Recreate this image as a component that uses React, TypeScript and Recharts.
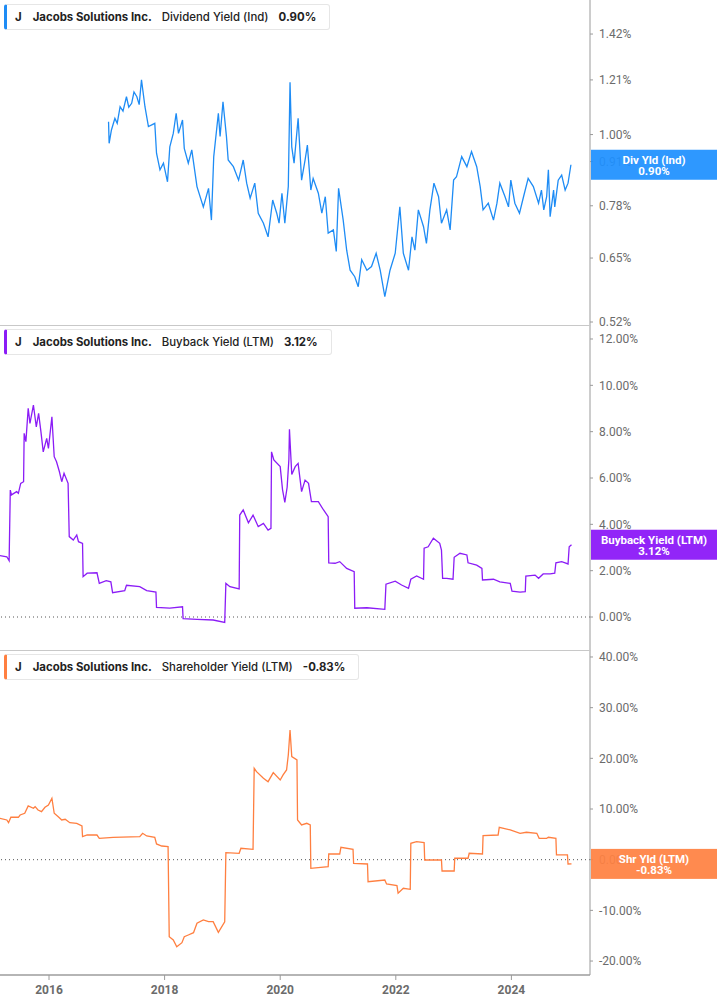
import React from 'react';
import { LineChart, Line, XAxis, YAxis, ReferenceLine } from 'recharts';

// time axis in fractional years
const X_MIN = 2015.152;
const X_MAX = 2025.36;
const yearTicks = [2016, 2018, 2020, 2022, 2024];

// Dividend Yield (Ind), %
const divDates = [
  2017.03, 2017.04, 2017.08, 2017.14, 2017.18, 2017.23, 2017.28, 2017.34, 2017.38, 2017.43, 2017.47, 2017.52, 2017.56, 2017.6, 2017.66,
  2017.72, 2017.83, 2017.86, 2017.92, 2017.98, 2018.05, 2018.09, 2018.15, 2018.2, 2018.24,
  2018.31, 2018.34, 2018.41, 2018.47, 2018.56, 2018.67, 2018.76, 2018.81, 2018.85, 2018.93,
  2018.96, 2019.01, 2019.07, 2019.1, 2019.19, 2019.28, 2019.36, 2019.42, 2019.48, 2019.56,
  2019.62, 2019.71, 2019.79, 2019.87, 2019.94, 2019.98, 2020.03, 2020.08, 2020.14, 2020.17,
  2020.2, 2020.24, 2020.31, 2020.37, 2020.43, 2020.47, 2020.53, 2020.57, 2020.66, 2020.72,
  2020.78, 2020.83, 2020.92, 2020.97, 2021.01, 2021.09, 2021.15, 2021.21, 2021.29, 2021.35,
  2021.41, 2021.5, 2021.58, 2021.66, 2021.73, 2021.81, 2021.9, 2021.99, 2022.07, 2022.13,
  2022.22, 2022.28, 2022.33, 2022.39, 2022.48, 2022.53, 2022.59, 2022.66, 2022.74, 2022.79,
  2022.88, 2022.94, 2023.0, 2023.05, 2023.14, 2023.23, 2023.31, 2023.4, 2023.46, 2023.51,
  2023.6, 2023.69, 2023.75, 2023.8, 2023.89, 2023.95, 2023.99, 2024.06, 2024.14, 2024.21,
  2024.29, 2024.38, 2024.47, 2024.52, 2024.56, 2024.61, 2024.64, 2024.67, 2024.73, 2024.75,
  2024.81, 2024.87, 2024.93, 2024.98, 2025.03,
];
const divValues = [
  1.046, 0.97, 1.016, 1.058, 1.04, 1.102, 1.085, 1.141, 1.1, 1.115, 1.16, 1.141, 1.11, 1.21, 1.102,
  1.028, 1.04, 0.937, 0.884, 0.905, 0.848, 0.958, 1.004, 1.077, 1.004,
  1.052, 0.953, 0.905, 0.948, 0.834, 0.777, 0.829, 0.742, 0.926, 1.077,
  0.993, 1.121, 0.993, 0.915, 0.894, 0.853, 0.915, 0.844, 0.801, 0.844,
  0.76, 0.734, 0.7, 0.796, 0.76, 0.734, 0.815, 0.734, 0.834, 1.2,
  0.958, 0.905, 1.058, 0.853, 0.915, 0.964, 0.824, 0.858, 0.815, 0.76,
  0.805, 0.709, 0.717, 0.665, 0.829, 0.742, 0.668, 0.623, 0.609, 0.588,
  0.646, 0.623, 0.631, 0.661, 0.623, 0.568, 0.623, 0.661, 0.777, 0.661,
  0.623, 0.7, 0.668, 0.769, 0.725, 0.684, 0.769, 0.844, 0.805, 0.734,
  0.769, 0.717, 0.853, 0.863, 0.926, 0.894, 0.942, 0.894, 0.834, 0.769,
  0.787, 0.742, 0.787, 0.844, 0.805, 0.777, 0.853, 0.787, 0.76, 0.805,
  0.858, 0.834, 0.787, 0.824, 0.769, 0.805, 0.884, 0.751, 0.824, 0.777,
  0.853, 0.868, 0.824, 0.844, 0.9,
];
const divTicks = [0.52, 0.65, 0.78, 0.91, 1.0, 1.21, 1.42];

// Buyback Yield (LTM), %
const buyDates = [
  2015.15, 2015.27, 2015.31, 2015.33, 2015.35, 2015.44, 2015.47, 2015.51, 2015.56, 2015.57,
  2015.6, 2015.64, 2015.67, 2015.73, 2015.78, 2015.82, 2015.86, 2015.9, 2015.96, 2015.99,
  2016.05, 2016.09, 2016.13, 2016.18, 2016.22, 2016.26, 2016.33, 2016.35, 2016.42, 2016.48,
  2016.51, 2016.58, 2016.59, 2016.66, 2016.83, 2016.87, 2016.99, 2017.07, 2017.1, 2017.31,
  2017.34, 2017.57, 2017.69, 2017.85, 2017.86, 2018.09, 2018.31, 2018.32, 2018.56, 2018.84,
  2019.04, 2019.06, 2019.13, 2019.29, 2019.3, 2019.36, 2019.45, 2019.53, 2019.62, 2019.71,
  2019.79, 2019.84, 2019.85, 2019.89, 2020.0, 2020.04, 2020.08, 2020.12, 2020.15, 2020.16,
  2020.2, 2020.26, 2020.31, 2020.37, 2020.43, 2020.49, 2020.54, 2020.66, 2020.75, 2020.83,
  2020.84, 2020.95, 2021.03, 2021.15, 2021.28, 2021.29, 2021.5, 2021.81, 2021.83, 2021.99,
  2022.1, 2022.22, 2022.26, 2022.36, 2022.48, 2022.49, 2022.56, 2022.65, 2022.76, 2022.79,
  2022.81, 2022.88, 2022.99, 2023.01, 2023.11, 2023.23, 2023.25, 2023.4, 2023.49, 2023.5,
  2023.69, 2023.8, 2023.98, 2024.01, 2024.15, 2024.24, 2024.25, 2024.41, 2024.47, 2024.55,
  2024.67, 2024.75, 2024.77, 2024.87, 2024.93, 2024.98, 2025.0, 2025.04,
];
const buyValues = [
  2.65, 2.6, 2.43, 5.48, 5.27, 5.41, 5.34, 5.77, 5.84, 7.93,
  7.57, 9.01, 8.36, 9.15, 8.21, 8.79, 8.0, 7.13, 7.71, 7.28,
  8.64, 6.92, 6.7, 6.27, 5.84, 6.2, 5.77, 3.47, 3.32, 3.54,
  3.25, 3.18, 1.74, 1.89, 1.91, 1.45, 1.57, 1.52, 1.05, 1.14,
  1.37, 1.31, 1.14, 1.08, 0.42, 0.38, 0.44, -0.07, -0.1, -0.13,
  -0.23, 1.45, 1.31, 1.21, 4.4, 4.62, 4.07, 4.4, 3.9, 4.04,
  3.75, 3.83, 7.13, 6.78, 6.49, 5.5, 4.95, 5.6, 6.8, 8.1,
  6.15, 6.49, 6.63, 5.41, 5.91, 5.77, 4.98, 4.98, 4.62, 4.33,
  2.34, 2.32, 2.39, 2.1, 1.96, 0.38, 0.4, 0.33, 1.42, 1.55,
  1.38, 1.24, 1.63, 1.77, 1.63, 2.97, 3.03, 3.4, 3.18, 2.89,
  1.67, 1.67, 1.63, 2.58, 2.75, 2.68, 2.34, 2.24, 2.1, 1.6,
  1.63, 1.52, 1.45, 1.12, 1.07, 1.09, 1.77, 1.81, 1.67, 1.86,
  1.86, 1.89, 2.34, 2.39, 2.34, 2.29, 3.03, 3.12,
];
const buyTicks = [0, 2, 4, 6, 8, 10, 12];

// Shareholder Yield (LTM), %
const shrDates = [
  2015.15, 2015.27, 2015.3, 2015.34, 2015.47, 2015.5, 2015.58, 2015.64, 2015.73, 2015.76,
  2015.81, 2015.87, 2015.93, 2015.99, 2016.05, 2016.09, 2016.16, 2016.22, 2016.28, 2016.36,
  2016.48, 2016.57, 2016.58, 2016.66, 2016.83, 2016.87, 2017.11, 2017.57, 2017.62, 2017.69,
  2017.83, 2017.86, 2017.95, 2018.06, 2018.08, 2018.15, 2018.21, 2018.3, 2018.34, 2018.41,
  2018.5, 2018.56, 2018.67, 2018.76, 2018.84, 2018.93, 2019.04, 2019.06, 2019.29, 2019.32,
  2019.53, 2019.55, 2019.59, 2019.71, 2019.79, 2019.88, 2020.0, 2020.05, 2020.11, 2020.14,
  2020.17, 2020.2, 2020.29, 2020.3, 2020.37, 2020.46, 2020.52, 2020.53, 2020.83, 2020.84,
  2021.03, 2021.05, 2021.26, 2021.27, 2021.51, 2021.52, 2021.81, 2021.84, 2022.02, 2022.04,
  2022.13, 2022.25, 2022.26, 2022.36, 2022.49, 2022.5, 2022.79, 2022.8, 2023.01, 2023.02,
  2023.25, 2023.27, 2023.5, 2023.51, 2023.77, 2023.79, 2023.98, 2024.15, 2024.26, 2024.44,
  2024.48, 2024.61, 2024.64, 2024.77, 2024.78, 2024.97, 2024.98, 2025.04,
];
const shrValues = [
  8.17, 7.84, 7.3, 8.37, 8.37, 8.82, 9.16, 10.6, 10.14, 10.46,
  9.81, 9.47, 10.34, 10.8, 12.12, 9.16, 8.49, 7.84, 7.97, 7.3,
  7.18, 6.65, 4.54, 4.87, 4.87, 4.22, 4.42, 4.54, 5.21, 4.68,
  4.42, 3.1, 2.7, 2.57, -15.2, -15.85, -17.17, -16.38, -15.2, -14.86,
  -14.41, -12.55, -11.9, -12.24, -12.24, -14.33, -12.24, 1.38, 1.26, 2.25,
  2.05, 18.04, 17.37, 16.06, 15.39, 17.17, 15.73, 16.72, 17.7, 20.66,
  25.6, 20.33, 19.68, 7.84, 6.85, 7.18, 6.85, -1.7, -1.38, 1.12,
  1.12, 2.45, 2.05, -0.71, -0.85, -4.34, -4.01, -4.8, -5.13, -6.63,
  -5.64, -5.84, 3.24, 3.55, 3.36, -0.06, -0.06, -2.23, -2.23, 0.28,
  0.28, 1.26, 1.12, 4.74, 4.87, 6.39, 5.86, 5.21, 5.41, 5.21,
  4.22, 4.22, 4.42, 4.22, 0.93, 0.93, -0.85, -0.83,
];
const shrTicks = [-20, -10, 0, 10, 20, 30, 40];

const BLUE = '#1e8cf5';
const PURPLE = '#8b1cf6';
const ORANGE = '#ff7f40';

const toRows = (dates: number[], values: number[]) =>
  dates.map((t, i) => ({ t, v: values[i] }));

const divData = toRows(divDates, divValues);
const buyData = toRows(buyDates, buyValues);
const shrData = toRows(shrDates, shrValues);

const pct = (v: number) => `${v.toFixed(2)}%`;

const FONT = 'Roboto, Arial, sans-serif';
const axisTick = { fill: '#6b6b6b', fontSize: 12, fontFamily: FONT };

function Badge(props: any) {
  const { viewBox, color, title, value } = props;
  if (!viewBox) return null;
  const left = viewBox.x + viewBox.width;
  const cy = viewBox.y;
  const cx = left + 64;
  return (
    <g>
      <rect x={left + 1} y={cy - 15} width={126} height={30} fill={color} fillOpacity={0.93} />
      <text x={cx} y={cy - 5} textAnchor="middle" dominantBaseline="central" fill="#fff"
        fontSize={11.5} fontWeight="bold" fontFamily={FONT}>{title}</text>
      <text x={cx} y={cy + 6.5} textAnchor="middle" dominantBaseline="central" fill="#fff"
        fontSize={11.5} fontWeight="bold" fontFamily={FONT}>{value}</text>
    </g>
  );
}

function Legend({ top, color, metric, value }: { top: number; color: string; metric: string; value: string }) {
  return (
    <div
      style={{
        position: 'absolute', left: 4, top, height: 26, boxSizing: 'border-box',
        border: '1px solid #e6e6e6', borderLeft: `3px solid ${color}`, borderRadius: 3,
        background: '#fff', display: 'flex', alignItems: 'center', padding: '0 13px 0 8px',
        fontFamily: 'Inter, sans-serif', fontSize: 11.4, color: '#222', whiteSpace: 'nowrap', zIndex: 5,
      }}
    >
      <span style={{ fontWeight: 700, marginRight: 11 }}>J</span>
      <span style={{ fontWeight: 700, marginRight: 10 }}>Jacobs Solutions Inc.</span>
      <span style={{ fontWeight: 500, marginRight: 10 }}>{metric}</span>
      <span style={{ fontWeight: 700 }}>{value}</span>
    </div>
  );
}

const Separator = ({ top }: { top: number }) => (
  <div style={{ position: 'absolute', left: 0, top, width: 591, height: 1, background: '#c8c8c8' }} />
);

// transparent chart on top of a panel, sharing its scales, that carries the value badge
function BadgeLayer({ top, height, bottom, data, domain, log, y, color, title, value }: any) {
  return (
    <div style={{ position: 'absolute', left: 0, top, zIndex: 3 }}>
      <LineChart width={717} height={height} data={data} margin={{ top: 0, right: 127, bottom, left: 0 }}>
        <XAxis dataKey="t" type="number" domain={[X_MIN, X_MAX]} allowDataOverflow hide />
        <YAxis yAxisId="r" type="number" hide domain={domain} scale={log ? 'log' : 'auto'} allowDataOverflow />
        <ReferenceLine yAxisId="r" y={y} stroke="none"
          label={(p: any) => <Badge viewBox={p.viewBox} color={color} title={title} value={value} />} />
      </LineChart>
    </div>
  );
}

export default function App() {
  const margin = { top: 0, right: 0, bottom: 0, left: 0 };
  const yAxisCommon = {
    yAxisId: 'r',
    orientation: 'right' as const,
    width: 127,
    axisLine: { stroke: '#9a9a9a' },
    tickLine: { stroke: '#9a9a9a' },
    tickSize: 3,
    tickMargin: 6,
    tick: axisTick,
    tickFormatter: pct,
    interval: 0 as const,
    allowDataOverflow: true,
    type: 'number' as const,
  };
  const lineCommon = {
    yAxisId: 'r',
    dataKey: 'v',
    strokeWidth: 1.3,
    dot: false,
    activeDot: false,
    isAnimationActive: false,
  };
  const divDomain = [0.5146, 1.599];
  const buyDomain = [-1.424, 12.561];
  const shrDomain = [-22.755, 41.18];
  return (
    <div style={{ position: 'relative', width: 717, height: 1005, background: '#fff', overflow: 'hidden' }}>
      <style>{'body{margin:0} .recharts-surface{overflow:visible}'}</style>

      <div style={{ position: 'absolute', left: 0, top: 0, zIndex: 1 }}>
        <LineChart width={717} height={325} data={divData} margin={margin}>
          <XAxis dataKey="t" type="number" domain={[X_MIN, X_MAX]} allowDataOverflow hide />
          <YAxis {...yAxisCommon} scale="log" domain={divDomain} ticks={divTicks} />
          <Line {...lineCommon} stroke={BLUE} />
        </LineChart>
      </div>
      <Separator top={325} />

      <div style={{ position: 'absolute', left: 0, top: 326 }}>
        <LineChart width={717} height={324} data={buyData} margin={margin}>
          <XAxis dataKey="t" type="number" domain={[X_MIN, X_MAX]} allowDataOverflow hide />
          <YAxis {...yAxisCommon} domain={buyDomain} ticks={buyTicks} />
          <ReferenceLine yAxisId="r" y={0} stroke="#555" strokeDasharray="1 3" />
          <Line {...lineCommon} stroke={PURPLE} />
        </LineChart>
      </div>
      <Separator top={650} />

      <div style={{ position: 'absolute', left: 0, top: 651 }}>
        <LineChart width={717} height={354} data={shrData} margin={margin}>
          <XAxis
            dataKey="t" type="number" domain={[X_MIN, X_MAX]} allowDataOverflow
            ticks={yearTicks} interval={0} height={30}
            axisLine={{ stroke: '#b5b5b5', strokeWidth: 2 }} tickLine={{ stroke: '#9a9a9a' }}
            tickSize={5} tickMargin={5}
            tick={{ fill: '#6b6b6b', fontSize: 12, fontWeight: 'bold', fontFamily: FONT }}
            tickFormatter={(v: number) => String(Math.round(v))}
          />
          <YAxis {...yAxisCommon} domain={shrDomain} ticks={shrTicks} />
          <ReferenceLine yAxisId="r" y={0} stroke="#555" strokeDasharray="1 3" />
          <Line {...lineCommon} stroke={ORANGE} />
        </LineChart>
      </div>

      <BadgeLayer top={0} height={325} bottom={0} data={divData} domain={divDomain} log
        y={0.9} color="#1e90ff" title="Div Yld (Ind)" value="0.90%" />
      <BadgeLayer top={326} height={324} bottom={0} data={buyData} domain={buyDomain}
        y={3.12} color="#8a14f7" title="Buyback Yield (LTM)" value="3.12%" />
      <BadgeLayer top={651} height={354} bottom={30} data={shrData} domain={shrDomain}
        y={-0.83} color="#ff8142" title="Shr Yld (LTM)" value="-0.83%" />

      <Legend top={4} color={BLUE} metric="Dividend Yield (Ind)" value="0.90%" />
      <Legend top={329} color={PURPLE} metric="Buyback Yield (LTM)" value="3.12%" />
      <Legend top={654} color={ORANGE} metric="Shareholder Yield (LTM)" value="-0.83%" />
    </div>
  );
}
